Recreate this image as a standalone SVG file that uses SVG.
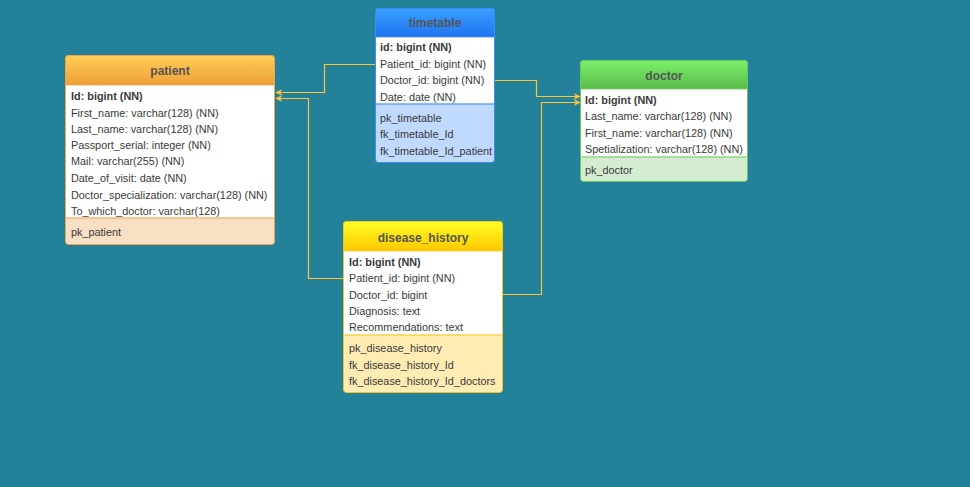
<svg xmlns="http://www.w3.org/2000/svg" width="970" height="487" viewBox="0 0 970 487">
  <defs>
    <linearGradient id="gOrange" x1="0" y1="0" x2="0" y2="1">
      <stop offset="0" stop-color="#ffcd55"/>
      <stop offset="1" stop-color="#efa038"/>
    </linearGradient>
    <linearGradient id="gBlue" x1="0" y1="0" x2="0" y2="1">
      <stop offset="0" stop-color="#3aa0ff"/>
      <stop offset="1" stop-color="#1f73f0"/>
    </linearGradient>
    <linearGradient id="gGreen" x1="0" y1="0" x2="0" y2="1">
      <stop offset="0" stop-color="#7cf06a"/>
      <stop offset="1" stop-color="#58bb4a"/>
    </linearGradient>
    <linearGradient id="gYellow" x1="0" y1="0" x2="0" y2="1">
      <stop offset="0" stop-color="#ffff22"/>
      <stop offset="1" stop-color="#ffc800"/>
    </linearGradient>
    <marker id="arr" viewBox="0 0 10 10" refX="9" refY="5" markerWidth="7" markerHeight="7" orient="auto" markerUnits="userSpaceOnUse">
      <path d="M0,0 L10,5 L0,10 L3,5 Z" fill="#ffc23a"/>
    </marker>
    <style>
      .t { font-family: "Liberation Sans", Arial, sans-serif; font-size: 10.85px; fill: #3a3a3a; }
      .b { font-weight: bold; }
      .h { font-family: "Liberation Sans", Arial, sans-serif; font-size: 12px; font-weight: bold; fill: #555; text-anchor: middle; }
      .conn { fill: none; stroke: #ffc23a; stroke-width: 1.2; }
    </style>
  </defs>

  <rect width="970" height="487" fill="#23829a"/>

  <g id="connectors">
    <path class="conn" d="M375,64.5 H324.5 V92.5 H276" marker-end="url(#arr)"/>
    <path class="conn" d="M343,278.5 H308.5 V98.5 H276" marker-end="url(#arr)"/>
    <path class="conn" d="M494,80.5 H536.5 V96.5 H580" marker-end="url(#arr)"/>
    <path class="conn" d="M503,294.5 H541.5 V102.5 H580" marker-end="url(#arr)"/>
  </g>

  <g id="patient">
    <rect x="65.5" y="55.5" width="209" height="189" rx="3" fill="#f9dfc4" stroke="#eea445"/>
    <path d="M65.5,85 V58.5 A3,3 0 0 1 68.5,55.5 H271.5 A3,3 0 0 1 274.5,58.5 V85 Z" fill="url(#gOrange)" stroke="#eea445"/>
    <rect x="66" y="85.5" width="208" height="132" fill="#ffffff"/>
    <line x1="66" y1="218" x2="274" y2="218" stroke="#eea445"/>
    <text class="h" x="170" y="75">patient</text>
    <text class="t b" x="71" y="100">Id: bigint (NN)</text>
    <text class="t" x="71" y="117">First_name: varchar(128) (NN)</text>
    <text class="t" x="71" y="133">Last_name: varchar(128) (NN)</text>
    <text class="t" x="71" y="149">Passport_serial: integer (NN)</text>
    <text class="t" x="71" y="165">Mail: varchar(255) (NN)</text>
    <text class="t" x="71" y="182">Date_of_visit: date (NN)</text>
    <text class="t" x="71" y="199">Doctor_specialization: varchar(128) (NN)</text>
    <text class="t" x="71" y="215">To_which_doctor: varchar(128)</text>
    <text class="t" x="71" y="236">pk_patient</text>
  </g>

  <g id="timetable">
    <rect x="375.5" y="8.5" width="119" height="154" rx="3" fill="#bfd9ff" stroke="#3a8cf5"/>
    <path d="M375.5,37 V11.5 A3,3 0 0 1 378.5,8.5 H491.5 A3,3 0 0 1 494.5,11.5 V37 Z" fill="url(#gBlue)" stroke="#3a8cf5"/>
    <rect x="376" y="37.5" width="118" height="66" fill="#ffffff"/>
    <line x1="376" y1="104" x2="494" y2="104" stroke="#3a8cf5"/>
    <text class="h" x="435" y="27">timetable</text>
    <text class="t b" x="380" y="51">id: bigint (NN)</text>
    <text class="t" x="380" y="68">Patient_id: bigint (NN)</text>
    <text class="t" x="380" y="84">Doctor_id: bigint (NN)</text>
    <text class="t" x="380" y="101">Date: date (NN)</text>
    <text class="t" x="380" y="122">pk_timetable</text>
    <text class="t" x="380" y="138">fk_timetable_Id</text>
    <text class="t" x="380" y="155">fk_timetable_Id_patient</text>
  </g>

  <g id="doctor">
    <rect x="580.5" y="60.5" width="167" height="121" rx="3" fill="#d3ecd0" stroke="#6cc85e"/>
    <path d="M580.5,89 V63.5 A3,3 0 0 1 583.5,60.5 H744.5 A3,3 0 0 1 747.5,63.5 V89 Z" fill="url(#gGreen)" stroke="#6cc85e"/>
    <rect x="581" y="89.5" width="166" height="67" fill="#ffffff"/>
    <line x1="581" y1="157" x2="747" y2="157" stroke="#6cc85e"/>
    <text class="h" x="664" y="80">doctor</text>
    <text class="t b" x="585" y="104">Id: bigint (NN)</text>
    <text class="t" x="585" y="120">Last_name: varchar(128) (NN)</text>
    <text class="t" x="585" y="137">First_name: varchar(128) (NN)</text>
    <text class="t" x="585" y="153">Spetialization: varchar(128) (NN)</text>
    <text class="t" x="585" y="174">pk_doctor</text>
  </g>

  <g id="disease_history">
    <rect x="343.5" y="221.5" width="159" height="171" rx="3" fill="#ffecb3" stroke="#f5c41e"/>
    <path d="M343.5,251 V224.5 A3,3 0 0 1 346.5,221.5 H499.5 A3,3 0 0 1 502.5,224.5 V251 Z" fill="url(#gYellow)" stroke="#f5c41e"/>
    <rect x="344" y="251.5" width="158" height="83" fill="#ffffff"/>
    <line x1="344" y1="335" x2="502" y2="335" stroke="#f5c41e"/>
    <text class="h" x="423" y="242">disease_history</text>
    <text class="t b" x="349" y="266">Id: bigint (NN)</text>
    <text class="t" x="349" y="282">Patient_id: bigint (NN)</text>
    <text class="t" x="349" y="299">Doctor_id: bigint</text>
    <text class="t" x="349" y="315">Diagnosis: text</text>
    <text class="t" x="349" y="331">Recommendations: text</text>
    <text class="t" x="349" y="352">pk_disease_history</text>
    <text class="t" x="349" y="369">fk_disease_history_Id</text>
    <text class="t" x="349" y="385">fk_disease_history_Id_doctors</text>
  </g>
</svg>
